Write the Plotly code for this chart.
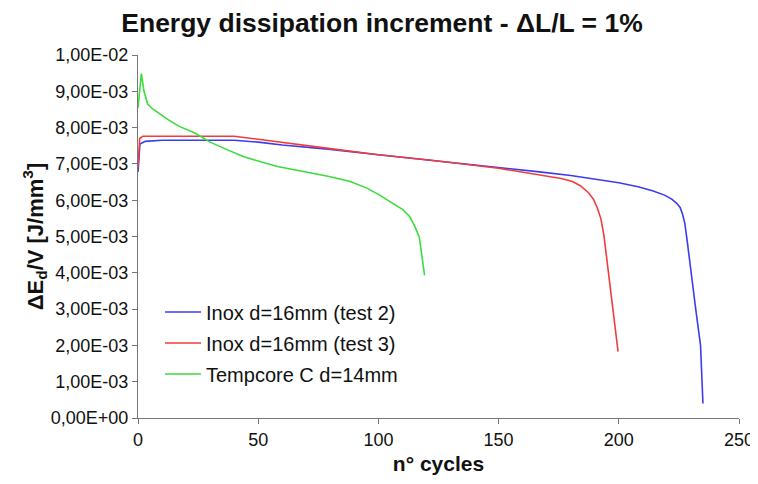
import plotly.graph_objects as go

# ---- data ----
blue_x = [0, 0.8, 3, 10, 40, 50, 60, 80, 100, 122, 150, 167, 180, 194, 200, 208, 214, 219, 222, 224,
          225.5, 226.5, 227.5, 228.5, 229.5, 230.5, 232, 233.2, 234, 234.5, 235]
blue_y = [6.78e-3, 7.55e-3, 7.62e-3, 7.65e-3, 7.65e-3, 7.60e-3, 7.52e-3, 7.40e-3, 7.25e-3, 7.10e-3,
          6.90e-3, 6.78e-3, 6.68e-3, 6.55e-3, 6.48e-3, 6.37e-3, 6.26e-3, 6.14e-3, 6.03e-3, 5.92e-3,
          5.80e-3, 5.62e-3, 5.35e-3, 4.85e-3, 4.30e-3, 3.70e-3, 3.00e-3, 2.40e-3, 2.00e-3, 1.20e-3, 0.40e-3]

red_x = [0, 0.7, 2, 40, 50, 60, 80, 100, 122, 150, 167, 176, 180.5, 184, 187.5, 189.5, 191, 192.5,
         193.75, 195, 196.5, 198, 199.7]
red_y = [6.90e-3, 7.70e-3, 7.76e-3, 7.76e-3, 7.68e-3, 7.60e-3, 7.42e-3, 7.25e-3, 7.10e-3, 6.88e-3,
         6.70e-3, 6.60e-3, 6.52e-3, 6.40e-3, 6.20e-3, 6.02e-3, 5.80e-3, 5.50e-3, 5.06e-3, 4.40e-3,
         3.68e-3, 2.80e-3, 1.83e-3]

green_x = [0, 0.5, 1.4, 2.5, 4, 6, 9, 12.5, 17, 23.6, 27, 30, 37.5, 44, 51.4, 58, 65, 72, 79, 88,
           95, 100, 105, 110, 113, 115, 117, 118.5, 119.2]
green_y = [8.55e-3, 8.95e-3, 9.49e-3, 9.00e-3, 8.65e-3, 8.52e-3, 8.38e-3, 8.22e-3, 8.04e-3, 7.85e-3,
           7.72e-3, 7.60e-3, 7.38e-3, 7.20e-3, 7.05e-3, 6.93e-3, 6.84e-3, 6.75e-3, 6.66e-3, 6.52e-3,
           6.34e-3, 6.16e-3, 5.95e-3, 5.75e-3, 5.55e-3, 5.30e-3, 4.99e-3, 4.35e-3, 3.93e-3]

names = ["Inox d=16mm (test 2)", "Inox d=16mm (test 3)", "Tempcore C d=14mm"]
colors = ["#3c3cf0", "#f03c3c", "#3cdc3c"]

y_tickvals = [i * 1e-3 for i in range(11)]
y_ticktext = ["0,00E+00", "1,00E-03", "2,00E-03", "3,00E-03", "4,00E-03", "5,00E-03",
              "6,00E-03", "7,00E-03", "8,00E-03", "9,00E-03", "1,00E-02"]
x_tickvals = [0, 50, 100, 150, 200, 250]

FONT = "Liberation Sans, Arial, sans-serif"

# the page body has an 8px margin, so the figure is sized to end at the window edge
W, H = 750, 476
L, R, T, B = 130, 19, 47, 66
PW, PH = W - L - R, H - T - B

fig = go.Figure()
for i, (xs, ys, n, c) in enumerate(zip([blue_x, red_x, green_x], [blue_y, red_y, green_y], names, colors)):
    fig.add_trace(go.Scatter(x=xs, y=ys, mode="lines", name=n, legendgroup=f"g{i}",
                             line=dict(color=c, width=1.6)))

fig.update_layout(
    width=W, height=H,
    margin=dict(l=L, r=R, t=T, b=B),
    paper_bgcolor="white", plot_bgcolor="white",
    font=dict(family=FONT, color="#111111"),
    title=dict(text="<b>Energy dissipation increment - ΔL/L = 1%</b>",
               font=dict(size=26.5, family=FONT, color="#111111"),
               x=374 / W, xref="container", xanchor="center",
               y=1 - 15 / H, yref="container", yanchor="middle"),
    xaxis=dict(range=[0, 250], tickvals=x_tickvals, ticks="outside", ticklen=5,
               tickcolor="#777777", showline=True, linecolor="#777777", linewidth=1.2,
               showgrid=False, zeroline=False, tickfont=dict(size=18), automargin=False,
               title=dict(text="<b>n° cycles</b>", font=dict(size=21), standoff=7)),
    yaxis=dict(range=[0, 0.01], tickvals=y_tickvals, ticktext=y_ticktext,
               ticks="outside", ticklen=5, tickcolor="#777777", showline=True,
               linecolor="#777777", linewidth=1.2, showgrid=False, zeroline=False,
               tickfont=dict(size=18), automargin=False,
               title=dict(text="<b>ΔE<sub>d</sub>/V [J/mm<sup>3</sup>]</b>",
                          font=dict(size=22), standoff=1)),
    legend=dict(x=(152 - L) / PW, y=(H - B - 284.5) / PH, xanchor="left", yanchor="top",
                bgcolor="rgba(0,0,0,0)", font=dict(size=20), tracegroupgap=2, itemwidth=36),
)

fig.write_html("out.html")
